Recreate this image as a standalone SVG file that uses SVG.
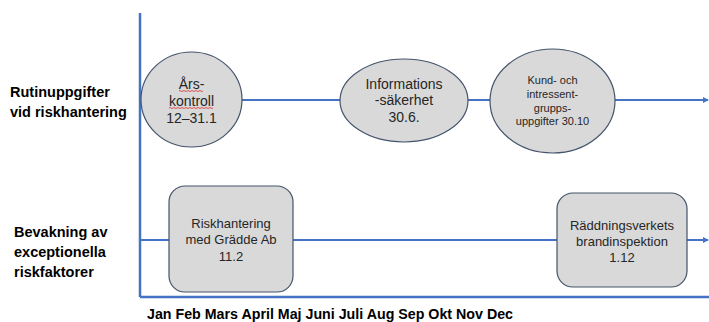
<svg xmlns="http://www.w3.org/2000/svg" width="709" height="322" viewBox="0 0 709 322">
<defs>
<style>
.ax{stroke:#4472C4;stroke-width:2.5;fill:none}
.ln{stroke:#4472C4;stroke-width:2;fill:none}
.nd{fill:#D9D9D9;stroke:#44546A;stroke-width:1.2}
.t{font-family:"Liberation Sans",Arial,sans-serif;fill:#262626;text-anchor:middle}
.lb{font-family:"Liberation Sans",Arial,sans-serif;font-weight:bold;fill:#000;font-size:14.5px}
.sq{stroke:#E03030;stroke-width:0.8;fill:none}
</style>
<marker id="ah" viewBox="0 0 6 6" refX="5" refY="3" markerWidth="3" markerHeight="3.5" orient="auto" markerUnits="strokeWidth">
<path d="M0,0 L6,3 L0,6 z" fill="#4472C4"/>
</marker>
</defs>
<rect width="709" height="322" fill="#fff"/>
<g id="axes">
<line class="ax" x1="140" y1="13" x2="140" y2="297"/>
<line class="ax" x1="140" y1="297" x2="709" y2="297"/>
</g>
<g id="connectors">
<line class="ln" x1="242" y1="100" x2="341" y2="100"/>
<line class="ln" x1="468" y1="100" x2="490" y2="100"/>
<line class="ln" x1="615" y1="100" x2="708" y2="100" marker-end="url(#ah)"/>
<line class="ln" x1="140" y1="240" x2="169" y2="240"/>
<line class="ln" x1="293" y1="240" x2="557" y2="240"/>
<line class="ln" x1="687" y1="240" x2="708" y2="240" marker-end="url(#ah)"/>
</g>
<g id="labels">
<text class="lb" x="10" y="97">Rutinuppgifter</text>
<text class="lb" x="10" y="117">vid riskhantering</text>
<text class="lb" x="14" y="237">Bevakning av</text>
<text class="lb" x="14" y="257">exceptionella</text>
<text class="lb" x="14" y="277">riskfaktorer</text>
<text class="lb" x="147" y="318.5" font-size="14" textLength="366" lengthAdjust="spacingAndGlyphs">Jan Feb Mars April Maj Juni Juli Aug Sep Okt Nov Dec</text>
</g>
<g id="node-arskontroll">
<ellipse class="nd" cx="191.5" cy="99.5" rx="50.5" ry="47.5"/>
<text class="t" font-size="14" x="191.5" y="89">Års-</text>
<text class="t" font-size="14" x="191.5" y="106">kontroll</text>
<text class="t" font-size="14" x="191.5" y="123">12–31.1</text>
<path class="sq" d="M179,91 q1,-1 2,0 t2,0 t2,0 t2,0 t2,0 t2,0 t2,0 t2,0 t2,0 t2,0 t2,0 t2,0"/>
<path class="sq" d="M169,108 q1,-1 2,0 t2,0 t2,0 t2,0 t2,0 t2,0 t2,0 t2,0 t2,0 t2,0 t2,0 t2,0 t2,0 t2,0 t2,0 t2,0 t2,0 t2,0 t2,0 t2,0 t2,0 t2,0"/>
</g>
<g id="node-informationssakerhet">
<ellipse class="nd" cx="404" cy="100.5" rx="64" ry="41.5"/>
<text class="t" font-size="14" x="404" y="89">Informations</text>
<text class="t" font-size="14" x="404" y="105">-säkerhet</text>
<text class="t" font-size="14" x="404" y="122">30.6.</text>
</g>
<g id="node-kund">
<ellipse class="nd" cx="552.5" cy="101" rx="62.5" ry="52"/>
<text class="t" font-size="11" x="552.5" y="84">Kund- och</text>
<text class="t" font-size="11" x="552.5" y="98">intressent-</text>
<text class="t" font-size="11" x="552.5" y="112">grupps-</text>
<text class="t" font-size="11" x="552.5" y="125">uppgifter 30.10</text>
</g>
<g id="node-riskhantering">
<rect class="nd" x="169" y="186" width="124" height="106" rx="16"/>
<text class="t" font-size="13" x="231" y="228">Riskhantering</text>
<text class="t" font-size="13" x="231" y="244">med Grädde Ab</text>
<text class="t" font-size="13" x="231" y="261">11.2</text>
</g>
<g id="node-raddningsverket">
<rect class="nd" x="557" y="193" width="130" height="94" rx="16"/>
<text class="t" font-size="13" x="622" y="230">Räddningsverkets</text>
<text class="t" font-size="13" x="622" y="246">brandinspektion</text>
<text class="t" font-size="13" x="622" y="262">1.12</text>
</g>
</svg>
